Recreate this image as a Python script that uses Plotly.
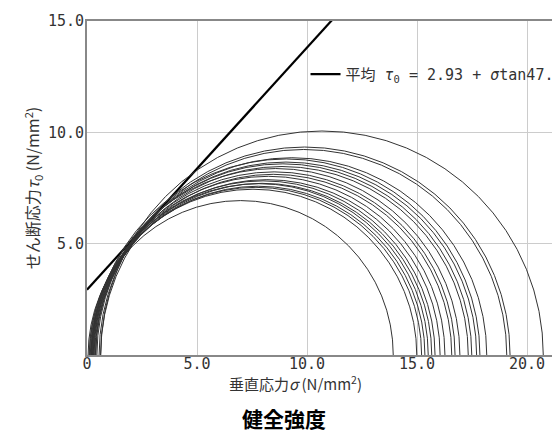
import plotly.graph_objects as go
import numpy as np

# Mohr circles: minor / major principal stress (N/mm2)
sigma3 = [0.05, 0.10, 0.15, 0.20, 0.12, 0.25, 0.18, 0.30, 0.22, 0.35,
          0.28, 0.20, 0.40, 0.32, 0.38, 0.25, 0.45, 0.62, 0.55, 0.62]
sigma1 = [13.92, 14.99, 15.21, 15.36, 15.51, 15.67, 15.82, 16.05, 16.27, 16.58,
          16.73, 16.95, 17.33, 17.49, 17.71, 17.86, 18.17, 19.08, 19.23, 20.74]

# average failure envelope
cohesion = 2.93
phi_deg = 47.4
line_x = [0.0, 12.0]

xtick_vals = [0, 5, 10, 15, 20]
xtick_text = ["0", "5.0", "10.0", "15.0", "20.0"]
ytick_vals = [5, 10, 15]
ytick_text = ["5.0", "10.0", "15.0"]

jp = "Noto Sans CJK JP"
mono = "DejaVu Sans Mono, Noto Sans CJK JP"

fig = go.Figure()

for s3, s1 in zip(sigma3, sigma1):
    r = (s1 - s3) / 2
    fig.add_shape(type="circle", xref="x", yref="y",
                  x0=s3, x1=s1, y0=-r, y1=r,
                  line=dict(color="#333333", width=1), layer="above")

lx = np.array(line_x)
fig.add_trace(go.Scatter(
    x=lx, y=cohesion + lx * np.tan(np.radians(phi_deg)),
    mode="lines", line=dict(color="black", width=2.2),
    name="平均 <i>τ</i><sub>0</sub> = 2.93 + <i>σ</i>tan47.4°",
    showlegend=True, hoverinfo="skip"))

# x axis title sits a little left of the plot centre in the original
fig.add_annotation(text="垂直応力<i>σ</i> (N/mm<sup>2</sup>)",
                   xref="paper", yref="paper", x=0.44, y=0,
                   xanchor="center", yanchor="middle", yshift=-28,
                   showarrow=False, font=dict(family=jp, size=15, color="#333333"))

# page body has an 8px margin, so the figure is offset by (8, 8)
fig.update_layout(
    width=552, height=422,
    margin=dict(l=79, r=0, t=13, b=75, autoexpand=False),
    paper_bgcolor="white", plot_bgcolor="white",
    font=dict(family=jp, size=13, color="#333333"),
    showlegend=True,
    legend=dict(x=0.462, y=0.84, xanchor="left", yanchor="middle",
                bgcolor="rgba(0,0,0,0)",
                font=dict(family=mono, size=15, color="#333333")),
    title=dict(text="<b>健全強度</b>", x=0.5, xref="container", xanchor="center",
               y=0.024, yref="container", yanchor="middle",
               font=dict(family=jp, size=21, color="black")),
)

fig.update_xaxes(
    range=[0, 21.5], tickvals=xtick_vals, ticktext=xtick_text,
    tickfont=dict(family=mono, size=15, color="#333333"),
    ticklabelstandoff=-6,
    showgrid=True, gridcolor="#cccccc", gridwidth=1,
    showline=True, linecolor="#888888", linewidth=2, mirror=True,
    ticks="", zeroline=False,
)
fig.update_yaxes(
    range=[0, 15], tickvals=ytick_vals, ticktext=ytick_text,
    tickfont=dict(family=mono, size=15, color="#333333"),
    ticklabelstandoff=-2,
    showgrid=True, gridcolor="#cccccc", gridwidth=1,
    showline=True, linecolor="#888888", linewidth=2,
    ticks="", zeroline=False,
    title=dict(text="せん断応力<i>τ</i><sub>0</sub> (N/mm<sup>2</sup>)", standoff=4),
)

fig.write_html("out.html")
